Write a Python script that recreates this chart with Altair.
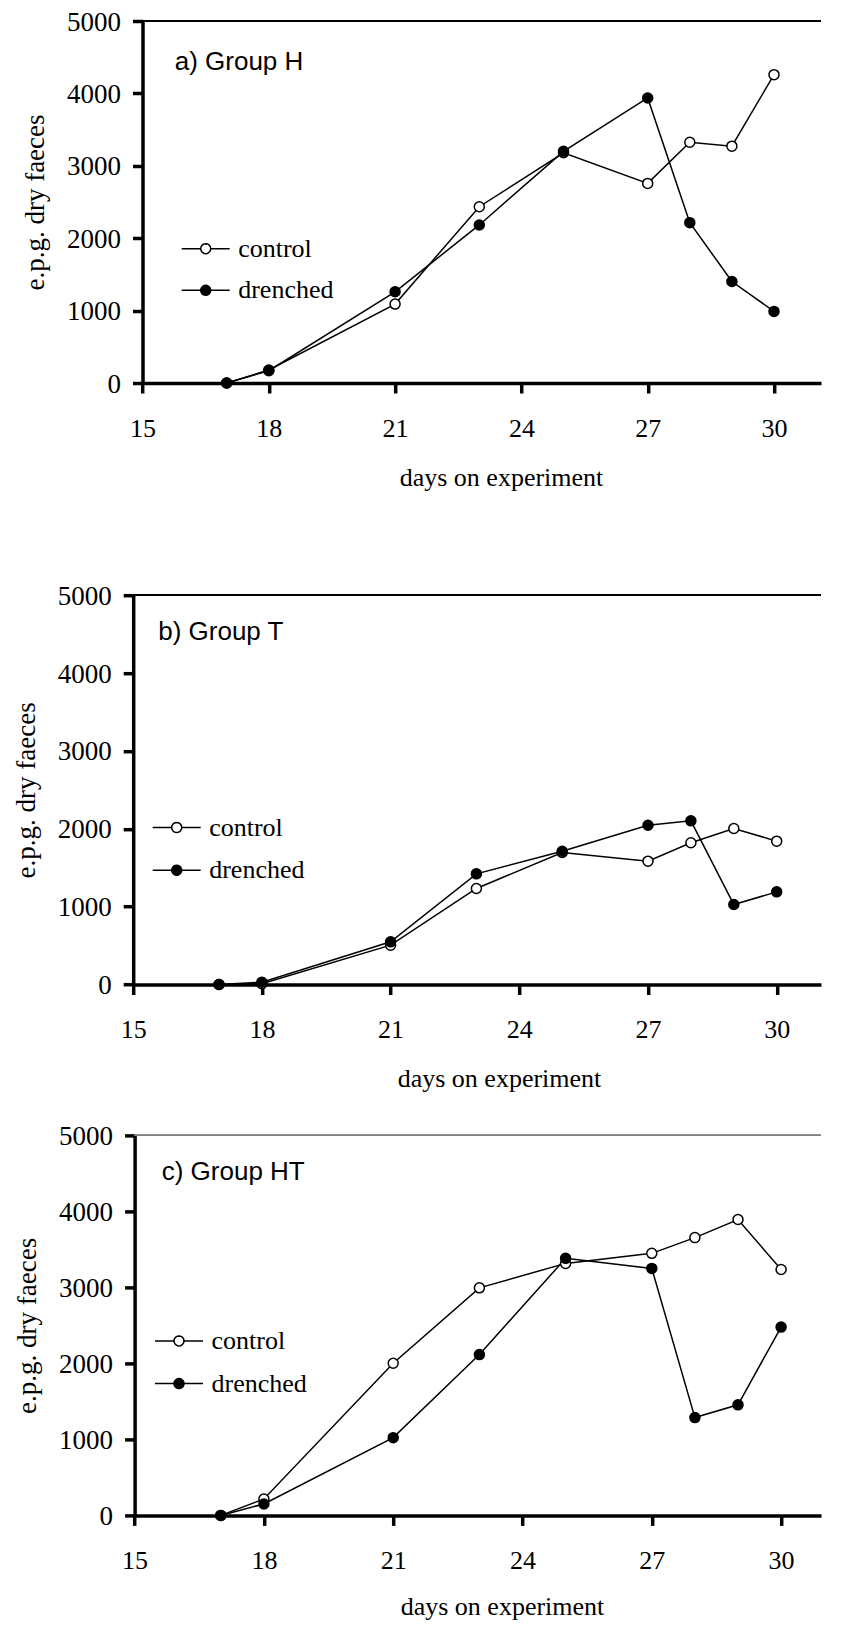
import math
import altair as alt
import pandas as pd

# ---------------- data ----------------
days = [17, 18, 21, 23, 25, 27, 28, 29, 30]

h_control = [0, 180, 1090, 2435, 3180, 2757, 3326, 3271, 4259]
h_drenched = [0, 170, 1260, 2183, 3200, 3937, 2215, 1402, 989]

t_control = [0, 10, 505, 1233, 1695, 1584, 1820, 2004, 1841]
t_drenched = [0, 30, 548, 1421, 1712, 2046, 2102, 1027, 1190]

ht_control = [0, 216, 2002, 2994, 3316, 3448, 3655, 3893, 3236]
ht_drenched = [0, 150, 1023, 2116, 3382, 3250, 1287, 1455, 2478]

panel_labels = ["a) Group H", "b) Group T", "c) Group HT"]
series_names = ["control", "drenched"]
x_ticks = [15, 18, 21, 24, 27, 30]
y_ticks = [0, 1000, 2000, 3000, 4000, 5000]
x_title = "days on experiment"
y_title = "e.p.g. dry faeces"

SERIF = "Liberation Serif"
SANS = "Liberation Sans"

# line + circle legend glyph (polygon circle, unit = 5px for symbolSize 100)
_poly = [(math.cos(2 * math.pi * k / 20), math.sin(2 * math.pi * k / 20)) for k in range(20)]
LEGEND_SYMBOL = (
    "M-4.8,0L-1,0M1,0L4.8,0M"
    + "L".join(f"{px:.3f},{py:.3f}" for px, py in _poly)
    + "Z"
)

PLOT_W = 687.8  # common view width (views are left-aligned by vconcat)


def blank(x, y):
    # invisible blank text used only to extend a panel's layout bounds
    return alt.Chart(pd.DataFrame({"blank": [" "]})).mark_text(
        align="left", baseline="middle", fontSize=10, opacity=0
    ).encode(text="blank:N", x=alt.value(x), y=alt.value(y))


def panel(label, control, drenched, lay):
    df = pd.DataFrame({
        "day": days + days,
        "value": control + drenched,
        "series": [series_names[0]] * len(days) + [series_names[1]] * len(days),
    })
    o = lay["shift"]
    xmax = 15 + (PLOT_W - o) / lay["px_per_day"]
    x = alt.X(
        "day:Q",
        scale=alt.Scale(domain=[15, xmax], range=[o, PLOT_W], nice=False, zero=False),
        axis=alt.Axis(
            values=x_ticks, title=x_title, labelFlush=False, labelOverlap=False,
            format="d",
            labelFontSize=26, labelPadding=43, labelBaseline="alphabetic",
            titleX=lay["title_x"], titleY=lay["title_y"], titleBaseline="alphabetic",
            titleAlign="center", titleFontSize=26,
        ),
    )
    y = alt.Y(
        "value:Q",
        scale=alt.Scale(domain=[0, 5000], nice=False),
        axis=alt.Axis(
            values=y_ticks, title=y_title, labelFlush=False, labelOverlap=False,
            format="d", offset=-o,
            labelFontSize=27, labelPadding=12, labelOffset=1, labelBaseline="middle",
            titleX=-99, titleBaseline="alphabetic", titleAlign="center",
            titleAngle=270, titleFontSize=27,
        ),
    )
    base = alt.Chart(df)
    top = base.mark_rule(color=lay["top_color"], strokeWidth=1).encode(
        x=alt.datum(15), x2=alt.datum(xmax), y=alt.datum(5000)
    )
    lines = base.mark_line(color="black", strokeWidth=1.5).encode(
        x=x, y=y, detail="series:N"
    )
    points = base.mark_point(
        shape="circle", filled=True, size=100, stroke="black", strokeWidth=1.5, opacity=1
    ).encode(
        x=x,
        y=y,
        fill=alt.Fill(
            "series:N",
            scale=alt.Scale(domain=series_names, range=["white", "black"]),
            legend=alt.Legend(
                orient="none", direction="vertical", title=None,
                legendX=lay["leg_x"], legendY=lay["leg_y"], padding=0,
                rowPadding=lay["row_pad"],
                symbolType=LEGEND_SYMBOL, symbolSize=100,
                symbolStrokeColor="black", symbolStrokeWidth=1.5, symbolOpacity=1,
                labelFont=SERIF, labelFontSize=26, labelColor="black",
                labelOffset=19.5, labelBaseline="middle",
            ),
        ),
    )
    text = alt.Chart(pd.DataFrame({"label": [label]})).mark_text(
        align="left", baseline="alphabetic", font=SANS, fontSize=26, color="black"
    ).encode(text="label:N", x=alt.value(lay["lab_x"]), y=alt.value(lay["lab_y"]))
    layers = [top, lines, points, text]
    if lay["left_pad"] > 0:
        layers.append(blank(-lay["left_pad"], lay["height"] / 2))
    if lay["extra_top"] > 0:
        layers.append(blank(40, -13 - lay["extra_top"] + 5))
    return alt.layer(*layers).properties(width=PLOT_W, height=lay["height"])


lay_a = dict(px_per_day=42.1, height=362, title_x=367.8, title_y=102,
             top_color="black", shift=9.3, left_pad=0, extra_top=0,
             leg_x=59.5, leg_y=214.7, row_pad=15.6, lab_x=41.5, lab_y=48.5)
lay_b = dict(px_per_day=42.9, height=389.3, title_x=365.8, title_y=102,
             top_color="black", shift=0, left_pad=125, extra_top=61.8,
             leg_x=30.5, leg_y=219.3, row_pad=16.7, lab_x=25, lab_y=45)
lay_c = dict(px_per_day=43.1, height=380, title_x=368.8, title_y=99,
             top_color="#808080", shift=1.4, left_pad=0, extra_top=0,
             leg_x=32.8, leg_y=192.5, row_pad=16.7, lab_x=28.5, lab_y=45)

pa = panel(panel_labels[0], h_control, h_drenched, lay_a)
pb = panel(panel_labels[1], t_control, t_drenched, lay_b)
pc = panel(panel_labels[2], ht_control, ht_drenched, lay_c)

chart = alt.vconcat(pa, pb, pc, spacing=30.2).resolve_scale(
    x="independent", y="independent", fill="independent"
).resolve_legend(fill="independent").properties(
    padding={"left": 0.2, "top": 0, "right": 0, "bottom": 0},
    background="white",
    usermeta={"embedOptions": {"actions": False, "renderer": "svg"}},
).configure_view(stroke=None).configure_axis(
    grid=False, domainColor="black", domainWidth=3.5, tickColor="black", tickWidth=3.5,
    tickSize=10, labelColor="black", titleColor="black", labelFont=SERIF, titleFont=SERIF,
    titleFontWeight="normal",
)

chart.save("out.html", embed_options={"renderer": "svg", "actions": False})
